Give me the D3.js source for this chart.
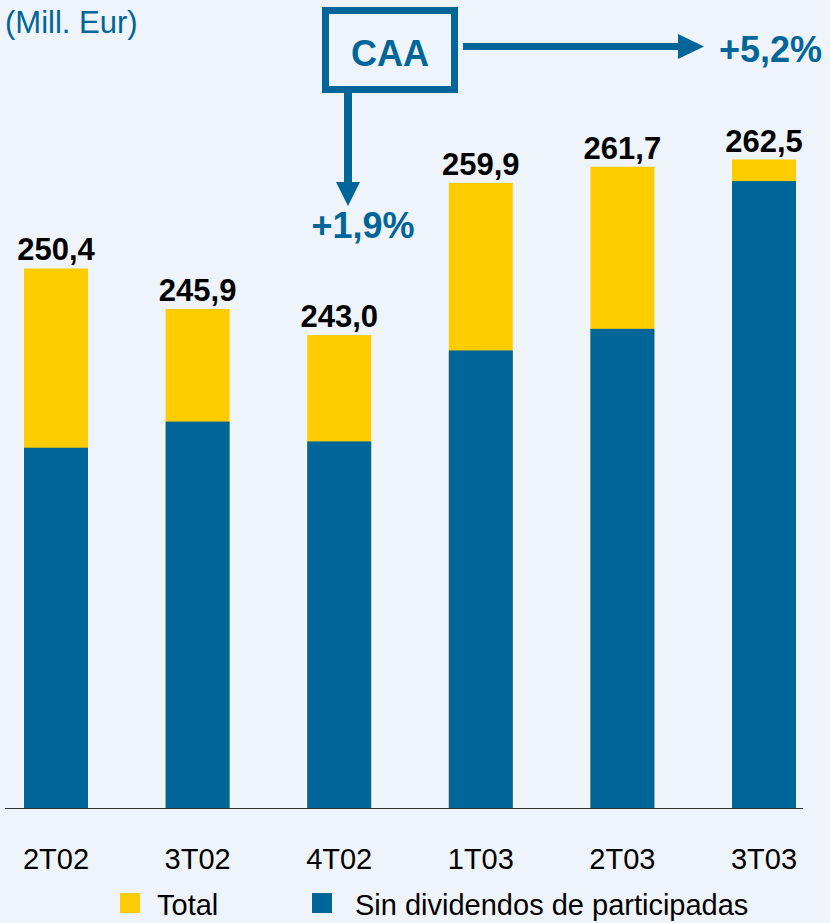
<!DOCTYPE html>
<html>
<head>
<meta charset="utf-8">
<script src="https://cdn.jsdelivr.net/npm/d3@7"></script>
<style>
  html, body { margin: 0; padding: 0; background: #eef4fa; }
  svg { display: block; font-family: "Liberation Sans", Arial, sans-serif; }
</style>
</head>
<body>
<script>
// ---- data ----
const categories = ["2T02", "3T02", "4T02", "1T03", "2T03", "3T03"];
const totalValues = [250.4, 245.9, 243.0, 259.9, 261.7, 262.5];
const sinDividendos = [230.5, 233.4, 231.2, 241.3, 243.7, 260.1];
const seriesNames = ["Total", "Sin dividendos de participadas"];
const unitLabel = "(Mill. Eur)";
const caaLabel = "CAA";
const caaQuarter = "+1,9%";
const caaYear = "+5,2%";

// ---- setup ----
const W = 830, H = 923;
const colors = { total: "#ffcc00", sin: "#006699", accent: "#006699" };
const fmt = d3.formatLocale({ decimal: ",", thousands: ".", grouping: [3], currency: ["", "€"] }).format(".1f");

const svg = d3.select("body").append("svg").attr("width", W).attr("height", H);
svg.append("rect").attr("width", W).attr("height", H).attr("fill", "#eef4fa");

const baseY = 808;
const x = d3.scaleBand().domain(categories).range([24, 796]).paddingInner(0.548).paddingOuter(0);
const y = d3.scaleLinear().domain([190.5, 262.5]).range([baseY, 159.5]);

const rows = categories.map((c, i) => ({ c, total: totalValues[i], sin: sinDividendos[i] }));

// bars: total (yellow) underneath, sin dividendos (blue) on top
const g = svg.append("g");
g.selectAll("rect.total").data(rows).join("rect")
  .attr("class", "total")
  .attr("x", d => x(d.c)).attr("width", x.bandwidth())
  .attr("y", d => y(d.total)).attr("height", d => y.range()[0] - y(d.total))
  .attr("fill", colors.total);
g.selectAll("rect.sin").data(rows).join("rect")
  .attr("class", "sin")
  .attr("x", d => x(d.c)).attr("width", x.bandwidth())
  .attr("y", d => y(d.sin)).attr("height", d => y.range()[0] - y(d.sin))
  .attr("fill", colors.sin);

// value labels
g.selectAll("text.val").data(rows).join("text")
  .attr("class", "val")
  .attr("x", d => x(d.c) + x.bandwidth() / 2)
  .attr("y", d => y(d.total) - 8)
  .attr("text-anchor", "middle")
  .attr("font-size", 31).attr("font-weight", "bold").attr("fill", "#000")
  .text(d => fmt(d.total));

// x axis baseline and labels
const xAxis = d3.axisBottom(x).tickSize(0).tickPadding(0);
const ax = svg.append("g").attr("transform", `translate(0,${baseY})`).call(xAxis);
ax.select(".domain").remove();
ax.selectAll("text")
  .attr("y", 61).attr("dy", 0)
  .attr("font-size", 29).attr("font-family", "Liberation Sans, Arial, sans-serif").attr("fill", "#000");
svg.append("line").attr("x1", 5).attr("x2", 803).attr("y1", baseY + 0.5).attr("y2", baseY + 0.5)
  .attr("stroke", "#333").attr("stroke-width", 1);

// unit label
svg.append("text").attr("x", 5).attr("y", 33).attr("font-size", 31).attr("fill", colors.accent).text(unitLabel);

// CAA box
svg.append("rect").attr("x", 325.5).attr("y", 10.5).attr("width", 129).attr("height", 79)
  .attr("fill", "none").attr("stroke", colors.accent).attr("stroke-width", 7);
svg.append("text").attr("x", 390).attr("y", 66).attr("text-anchor", "middle")
  .attr("font-size", 36).attr("font-weight", "bold").attr("fill", colors.accent).text(caaLabel);

// horizontal arrow
svg.append("rect").attr("x", 463).attr("y", 43).attr("width", 217).attr("height", 7).attr("fill", colors.accent);
svg.append("path").attr("d", "M678,34 L704,46.5 L678,59 Z").attr("fill", colors.accent);
svg.append("text").attr("x", 719).attr("y", 62).attr("font-size", 36).attr("font-weight", "bold")
  .attr("fill", colors.accent).text(caaYear);

// vertical arrow
svg.append("rect").attr("x", 344).attr("y", 93).attr("width", 8).attr("height", 90).attr("fill", colors.accent);
svg.append("path").attr("d", "M336,182 L360,182 L348,206 Z").attr("fill", colors.accent);
svg.append("text").attr("x", 363).attr("y", 238).attr("text-anchor", "middle").attr("font-size", 36)
  .attr("font-weight", "bold").attr("fill", colors.accent).text(caaQuarter);

// legend
const legend = svg.append("g");
const legItems = [
  { name: seriesNames[0], color: colors.total, sx: 120, tx: 157 },
  { name: seriesNames[1], color: colors.sin, sx: 312, tx: 355 }
];
legItems.forEach(it => {
  legend.append("rect").attr("x", it.sx).attr("y", 893).attr("width", 20).attr("height", 20).attr("fill", it.color);
  legend.append("text").attr("x", it.tx).attr("y", 915).attr("font-size", 29).attr("fill", "#000").text(it.name);
});
</script>
</body>
</html>
